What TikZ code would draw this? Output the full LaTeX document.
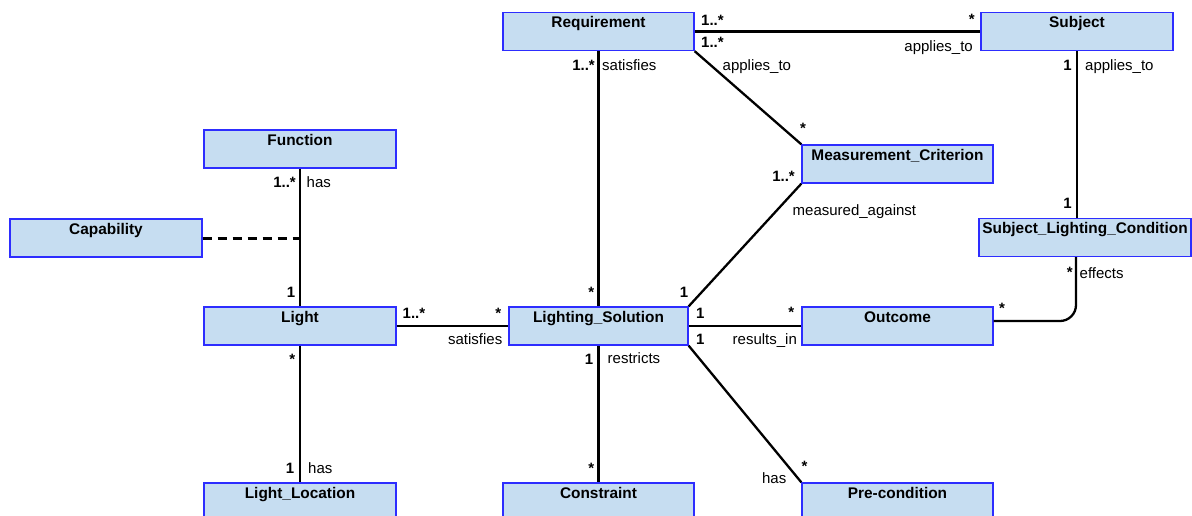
\documentclass[tikz,border=0pt]{standalone}
\usepackage{fontspec}
\setmainfont{Liberation Sans}
\definecolor{boxfill}{RGB}{198,221,241}
\definecolor{boxline}{RGB}{45,45,255}
\begin{document}
\begin{tikzpicture}[x=1pt,y=-1pt,
  font=\fontsize{15}{18}\selectfont,
  classbox/.style={draw=boxline,fill=boxfill,line width=1.3pt,rectangle,
    inner xsep=0pt,inner ysep=0pt,text height=15pt,text depth=23pt,
    font=\fontsize{15.4}{18}\selectfont\bfseries},
  mult/.style={inner sep=0pt,font=\fontsize{15}{18}\selectfont\bfseries},
  role/.style={inner sep=0pt},
  assoc/.style={line width=2.3pt,black},
  linkdash/.style={line width=3pt,black,dash pattern=on 9pt off 6pt}]
\clip (0,0) rectangle (1192,515);

% classes
\node[classbox,minimum width=191pt] (req)  at (598.5,31.5)  {Requirement};
\node[classbox,minimum width=192pt] (subj) at (1077,31.5)   {Subject};
\node[classbox,minimum width=192pt] (fn)   at (300,149)     {Function};
\node[classbox,minimum width=192pt] (cap)  at (106,238)     {Capability};
\node[classbox,minimum width=192pt] (light) at (300,326)    {Light};
\node[classbox,minimum width=179pt] (ls)   at (598.5,326)   {Lighting\_Solution};
\node[classbox,minimum width=191pt] (mc)   at (897.5,164)   {Measurement\_Criterion};
\node[classbox,minimum width=212pt] (slc)  at (1085,237.5)  {Subject\_Lighting\_Condition};
\node[classbox,minimum width=191pt] (out)  at (897.5,326)   {Outcome};
\node[classbox,minimum width=192pt] (ll)   at (300,502)     {Light\_Location};
\node[classbox,minimum width=191pt] (con)  at (598.5,502)   {Constraint};
\node[classbox,minimum width=191pt] (pre)  at (897.5,502)   {Pre-condition};

% associations
\draw[assoc] (req.east) -- (subj.west);
\draw[assoc] (req.south) -- (ls.north);
\draw[assoc] (req.south east) -- (mc.north west);
\draw[assoc] (subj.south) -- (subj.south |- slc.north);
\draw[assoc] (mc.south west) -- (ls.north east);
\draw[assoc] (fn.south) -- (light.north);
\coordinate (capend) at (fn.south |- cap.east);
\draw[linkdash] (cap.east) -- (capend);
\draw[assoc] (light.east) -- (ls.west);
\draw[assoc] (ls.east) -- (out.west);
\draw[assoc] (ls.south) -- (con.north);
\draw[assoc] (ls.south east) -- (pre.north west);
\draw[assoc] (light.south) -- (ll.north);
\coordinate (oe) at ([yshift=5pt]out.east);
\coordinate (bend) at (1076,321);
\draw[assoc,rounded corners=16pt] (oe) -- (bend) -- (bend |- slc.south);

% multiplicities
\node[mult,anchor=base west] (m1)  at (701,25.5)    {1..*};
\node[mult,anchor=base west] (m2)  at (701,47)      {1..*};
\node[mult,anchor=base east] (m3)  at (975,24)      {*};
\node[mult,anchor=base east] (m4)  at (595,70.5)    {1..*};
\node[mult,anchor=base west] (m5)  at (800,133)     {*};
\node[mult,anchor=base east] (m6)  at (795,181.5)   {1..*};
\node[mult,anchor=base east] (m7)  at (1072,70.5)   {1};
\node[mult,anchor=base east] (m8)  at (1072,208.5)  {1};
\node[mult,anchor=base east] (m9)  at (1073,277)    {*};
\node[mult,anchor=base west] (m10) at (999,313)     {*};
\node[mult,anchor=base east] (m11) at (296,187.5)   {1..*};
\node[mult,anchor=base east] (m12) at (295.5,297.5) {1};
\node[mult,anchor=base west] (m13) at (402.5,318)   {1..*};
\node[mult,anchor=base east] (m14) at (501.5,318)   {*};
\node[mult,anchor=base east] (m15) at (594.5,297.7) {*};
\node[mult,anchor=base east] (m16) at (688.5,297.5) {1};
\node[mult,anchor=base west] (m17) at (696,318)     {1};
\node[mult,anchor=base west] (m18) at (696,344)     {1};
\node[mult,anchor=base east] (m19) at (794.5,317.5) {*};
\node[mult,anchor=base east] (m20) at (593.5,364.5) {1};
\node[mult,anchor=base east] (m21) at (295.5,364.5) {*};
\node[mult,anchor=base east] (m22) at (594.5,473)   {*};
\node[mult,anchor=base west] (m23) at (801.5,471)   {*};
\node[mult,anchor=base east] (m24) at (294.5,473)   {1};

% role names
\node[role,anchor=base east] (r1)  at (973,51.5)    {applies\_to};
\node[role,anchor=base west] (r2)  at (602,70.5)    {satisfies};
\node[role,anchor=base west] (r3)  at (722.5,70.5)  {applies\_to};
\node[role,anchor=base west] (r4)  at (1085,70.5)   {applies\_to};
\node[role,anchor=base west] (r5)  at (792.5,215)   {measured\_against};
\node[role,anchor=base west] (r6)  at (1079.5,278.5) {effects};
\node[role,anchor=base west] (r7)  at (306.5,187.5) {has};
\node[role,anchor=base east] (r8)  at (502.5,344)   {satisfies};
\node[role,anchor=base west] (r9)  at (732.5,344)   {results\_in};
\node[role,anchor=base west] (r10) at (607.5,363)   {restricts};
\node[role,anchor=base west] (r11) at (308,473)     {has};
\node[role,anchor=base east] (r12) at (786.5,483)   {has};
\end{tikzpicture}
\end{document}
